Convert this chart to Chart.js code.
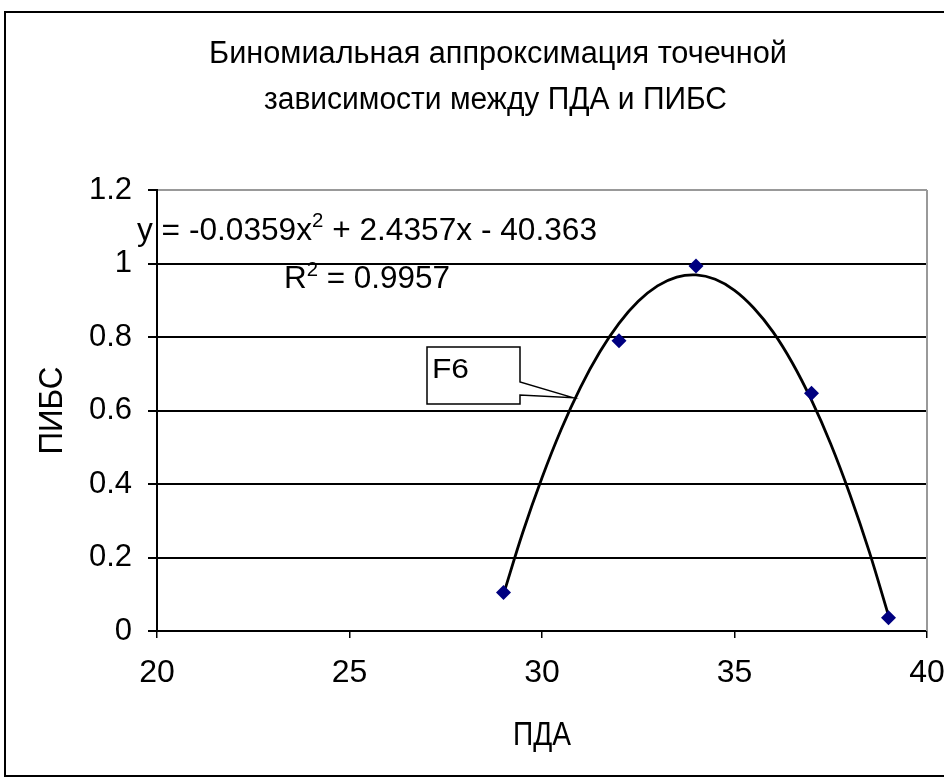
<!DOCTYPE html>
<html>
<head>
<meta charset="utf-8">
<script src="https://cdn.jsdelivr.net/npm/chart.js@4.4.1/dist/chart.umd.min.js"></script>
<style>
  html, body { margin: 0; padding: 0; background: #fff; }
  canvas { display: block; }
</style>
</head>
<body>
<canvas id="approxChart" width="944" height="783"></canvas>
<script>
// точки ПДА / ПИБС
const pdaValues = [29, 32, 34, 37, 39];
const pibsValues = [0.105, 0.79, 0.993, 0.647, 0.036];

// линия тренда
const trendX = [29, 29.5, 30, 30.5, 31, 31.5, 32, 32.5, 33, 33.5, 34, 34.5, 35, 35.5, 36, 36.5, 37, 37.5, 38, 38.5, 39];
const trendY = [0.100, 0.268, 0.417, 0.549, 0.663, 0.759, 0.837, 0.897, 0.939, 0.963, 0.969, 0.957, 0.927, 0.879, 0.814, 0.730, 0.628, 0.509, 0.371, 0.216, 0.042];

const xTicks = [20, 25, 30, 35, 40];
const yTicks = [0, 0.2, 0.4, 0.6, 0.8, 1, 1.2];

const titleLines = ['Биномиальная аппроксимация точечной', 'зависимости между ПДА и ПИБС'];
const xTitle = 'ПДА';
const yTitle = 'ПИБС';
const calloutText = 'F6';

const FONT = '"Liberation Sans", Arial, sans-serif';

// текст, сжатый/растянутый по ширине
function drawParts(ctx, parts, x, y, width) {
    let natural = 0;
    parts.forEach(p => {
        ctx.font = p[1] + 'px ' + FONT;
        natural += ctx.measureText(p[0]).width;
    });
    const k = width ? width / natural : 1;
    ctx.save();
    ctx.translate(x, y);
    ctx.scale(k, 1);
    ctx.textAlign = 'left';
    ctx.textBaseline = 'alphabetic';
    ctx.fillStyle = '#000';
    let cx = 0;
    parts.forEach(p => {
        ctx.font = p[1] + 'px ' + FONT;
        ctx.fillText(p[0], cx, -(p[2] || 0));
        cx += ctx.measureText(p[0]).width;
    });
    ctx.restore();
}

const decor = {
    id: 'decor',
    beforeDraw(chart) {
        const ctx = chart.ctx;
        ctx.save();
        ctx.fillStyle = '#fff';
        ctx.fillRect(0, 0, chart.width, chart.height);
        ctx.restore();
    },
    beforeDatasetsDraw(chart) {
        const { ctx, chartArea: a } = chart;
        ctx.save();
        ctx.strokeStyle = '#999';
        ctx.lineWidth = 2;
        ctx.beginPath();
        ctx.moveTo(a.right, a.top);
        ctx.lineTo(a.right, a.bottom);
        ctx.stroke();
        ctx.restore();
    },
    afterDraw(chart) {
        const { ctx, chartArea: a, scales } = chart;
        ctx.save();

        // рамка диаграммы
        ctx.strokeStyle = '#000';
        ctx.lineWidth = 2;
        ctx.strokeRect(5, 12, 1000, 764);

        // заголовок
        drawParts(ctx, [[titleLines[0], 31]], 209, 63, 578);
        drawParts(ctx, [[titleLines[1], 31]], 264, 109, 463);

        // подписи осей
        ctx.fillStyle = '#000';
        ctx.textAlign = 'center';
        ctx.textBaseline = 'alphabetic';
        drawParts(ctx, [[xTitle, 33]], (a.left + a.right) / 2 - 29, 745, 58);
        ctx.save();
        ctx.translate(62, (a.top + a.bottom) / 2 + 44);
        ctx.rotate(-Math.PI / 2);
        drawParts(ctx, [[yTitle, 33]], 0, 0, 88);
        ctx.restore();

        // уравнение тренда
        drawParts(ctx, [['y = -0.0359x', 31], ['2', 20, 13], [' + 2.4357x - 40.363', 31]], 137, 240, 460);
        drawParts(ctx, [['R', 31], ['2', 20, 12], [' = 0.9957', 31]], 284, 288, 166);

        // выноска F6
        const tipX = scales.x.getPixelForValue(30.8);
        const tipY = scales.y.getPixelForValue(0.635);
        ctx.beginPath();
        ctx.moveTo(427, 347);
        ctx.lineTo(520, 347);
        ctx.lineTo(520, 382);
        ctx.lineTo(tipX, tipY);
        ctx.lineTo(520, 395);
        ctx.lineTo(520, 404);
        ctx.lineTo(427, 404);
        ctx.closePath();
        ctx.fillStyle = '#fff';
        ctx.fill();
        ctx.strokeStyle = '#000';
        ctx.lineWidth = 1.5;
        ctx.stroke();
        drawParts(ctx, [[calloutText, 28]], 432, 378, 37);

        ctx.restore();
    }
};

const approxChart = new Chart(document.getElementById('approxChart'), {
    type: 'scatter',
    data: {
        datasets: [
            {
                label: 'ПИБС',
                data: pdaValues.map((x, i) => ({ x: x, y: pibsValues[i] })),
                pointStyle: 'rectRot',
                pointRadius: 7.5,
                backgroundColor: '#000080',
                borderColor: '#000080',
                borderWidth: 0,
                order: 0
            },
            {
                label: 'тренд',
                data: trendX.map((x, i) => ({ x: x, y: trendY[i] })),
                showLine: true,
                pointRadius: 0,
                borderColor: '#000',
                borderWidth: 2.8,
                tension: 0.35,
                order: 1
            }
        ]
    },
    options: {
        responsive: false,
        animation: false,
        devicePixelRatio: 1,
        layout: { padding: { left: 0, top: 190, right: 17, bottom: 0 } },
        plugins: {
            legend: { display: false },
            tooltip: { enabled: false },
            title: { display: false }
        },
        scales: {
            x: {
                type: 'linear',
                min: 20,
                max: 40,
                afterBuildTicks: s => { s.ticks = xTicks.map(v => ({ value: v })); },
                afterFit: s => { s.height = 152; s.paddingLeft = 0; s.paddingRight = 0; },
                grid: { drawOnChartArea: false, tickLength: 7, color: '#000', lineWidth: 1.5 },
                border: { color: '#000', width: 2 },
                ticks: {
                    color: '#000',
                    font: { family: FONT, size: 32 },
                    padding: 16,
                    maxRotation: 0,
                    autoSkip: false,
                    callback: v => String(v)
                }
            },
            y: {
                type: 'linear',
                min: 0,
                max: 1.2,
                afterBuildTicks: s => { s.ticks = yTicks.map(v => ({ value: v })); },
                afterFit: s => { s.width = 157; s.paddingTop = 0; s.paddingBottom = 0; },
                grid: {
                    color: c => (c.tick && c.tick.value === 1.2) ? '#999' : '#000',
                    tickColor: '#000',
                    lineWidth: 2,
                    tickLength: 9
                },
                border: { color: '#000', width: 2 },
                ticks: {
                    color: '#000',
                    font: { family: FONT, size: 31 },
                    padding: 16,
                    autoSkip: false,
                    callback: v => String(v)
                }
            }
        }
    },
    plugins: [decor]
});
</script>
</body>
</html>
